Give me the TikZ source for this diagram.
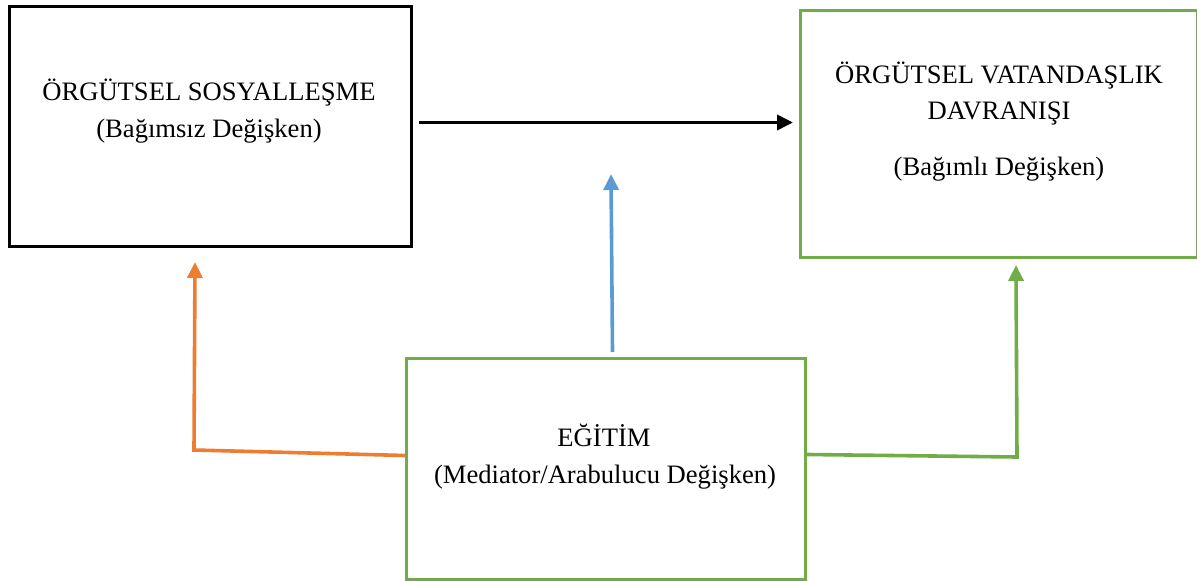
\documentclass[tikz,border=0pt]{standalone}
\usepackage{fontspec}
\setmainfont{Liberation Serif}
\usetikzlibrary{arrows.meta}
\definecolor{myorange}{HTML}{ED7D31}
\definecolor{myblue}{HTML}{5B9BD5}
\definecolor{mygreen}{HTML}{70AD47}
\begin{document}
\begin{tikzpicture}[x=1pt,y=-1pt,
  boxstyle/.style={draw, line width=3pt, inner sep=0pt, anchor=north west},
  txt/.style={font=\fontsize{26.6}{32}\selectfont, anchor=base, inner sep=0pt},
  conn/.style={line width=3.6pt},
  arr/.style={conn, -{Triangle[length=16pt,width=15pt]}}]
\useasboundingbox (0,0) rectangle (1197,581);
% boxes
\node[boxstyle, black, minimum width=402pt, minimum height=240pt] (soc) at (8,5) {};
\node[boxstyle, mygreen, minimum width=397pt, minimum height=247pt] (val) at (799,9) {};
\node[boxstyle, mygreen, minimum width=399pt, minimum height=221pt] (edu) at (405,357) {};
% texts
\node[txt] (t1) at (209,100) {ÖRGÜTSEL SOSYALLEŞME};
\node[txt] (t2) at (209,137) {(Bağımsız Değişken)};
\node[txt] (t3) at (999,83) {ÖRGÜTSEL VATANDAŞLIK};
\node[txt] (t4) at (999,119) {DAVRANIŞI};
\node[txt] (t5) at (999,175) {(Bağımlı Değişken)};
\node[txt] (t6) at (604,446) {EĞİTİM};
\node[txt] (t7) at (605,483) {(Mediator/Arabulucu Değişken)};
% coordinates
\coordinate (btip) at (611,174);
\coordinate (ocorner) at (194,450);
\coordinate (otip) at (195,262);
\coordinate (gcorner) at (1017,457);
\coordinate (gtip) at (1016,265);
% connectors
\draw[arr, black] ([xshift=6pt,yshift=4pt]soc.east) -- ([xshift=-6pt,yshift=11.5pt]val.west);
\draw[arr, myblue] ([xshift=6.5pt,yshift=5pt]edu.north) -- (btip);
\draw[arr, myorange] ([yshift=13.5pt]edu.west) -- (ocorner) -- (otip);
\draw[arr, mygreen] ([yshift=14.5pt]edu.east) -- (gcorner) -- (gtip);
\end{tikzpicture}
\end{document}
